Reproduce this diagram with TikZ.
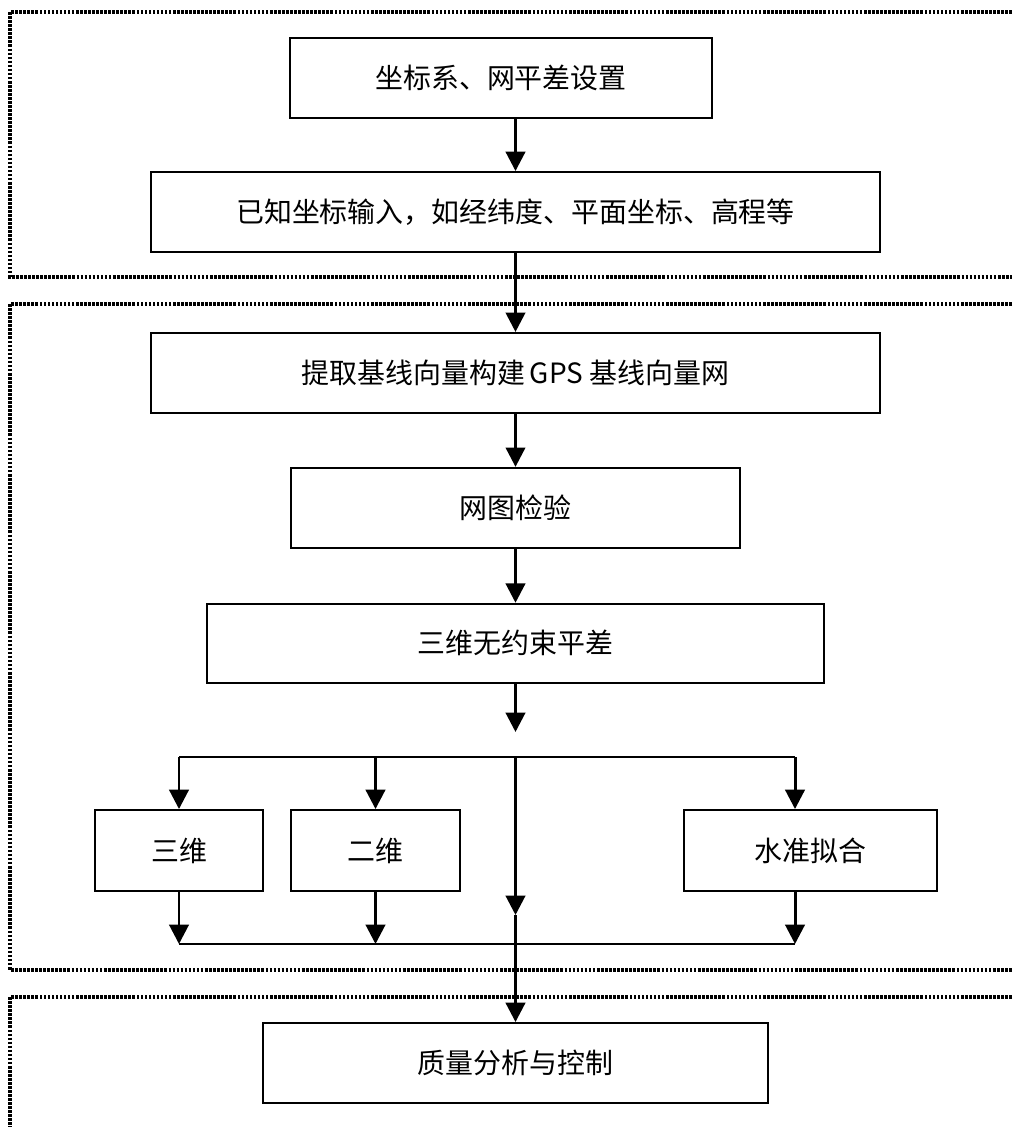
\documentclass[tikz,border=0pt]{standalone}
\usepackage{fontspec}
\newfontfamily\cjk{Noto Sans CJK SC}
\usetikzlibrary{arrows.meta,positioning,calc}

\begin{document}
\begin{tikzpicture}[
x=0.02cm, y=-0.02cm,
node distance=1.08cm,
box/.style={draw, line width=1.1pt, minimum height=1.6cm, inner sep=0pt, align=center, font=\cjk\fontsize{15.9}{19}\selectfont},
arr/.style={-{Triangle[length=11pt, width=11pt]}, line width=1.7pt},
bar/.style={line width=1.2pt},
grp/.style={line width=1.9pt, dash pattern=on 1.5pt off 0.8pt}
]
\useasboundingbox (0,0) rectangle (1012,1127);

% dotted frames, open on the right
\draw[grp] (1012,12) -- (10,12) -- (10,277) -- (1012,277);
\draw[grp] (1012,304) -- (10,304) -- (10,970) -- (1012,970);
\draw[grp] (1012,997) -- (10,997) -- (10,1127);

\node[box, minimum width=8.44cm] (setup) at (501,78) {坐标系、网平差设置};
\node[box, minimum width=14.58cm] (known) at (515.5,212) {已知坐标输入，如经纬度、平面坐标、高程等};
\node[box, minimum width=14.58cm, below=1.58cm of known] (extract) {提取基线向量构建\,GPS\ 基线向量网};
\node[box, minimum width=8.98cm, below=1.06cm of extract] (check) {网图检验};
\node[box, minimum width=12.34cm, minimum height=1.58cm, below=of check] (free) {三维无约束平差};

\node[box, minimum width=3.36cm, minimum height=1.62cm] (three) at (179,850.5) {三维};
\node[box, minimum width=3.38cm, minimum height=1.62cm] (two) at (375.5,850.5) {二维};
\node[box, minimum width=5.06cm, minimum height=1.62cm] (level) at (810.5,850.5) {水准拟合};
\node[box, minimum width=10.1cm] (quality) at (515.5,1063) {质量分析与控制};

\coordinate (fork) at (515.5,732);
\coordinate (split) at (515.5,757);
\coordinate (mid) at (515.5,915);
\coordinate (join) at (515.5,944);
\coordinate (lvltop) at ([xshift=-0.31cm]level.north);
\coordinate (lvlbot) at ([xshift=-0.31cm]level.south);

\draw[arr] (known.north |- setup.south) -- (known);
\draw[arr] (known) -- (extract);
\draw[arr] (extract) -- (check);
\draw[arr] (check) -- (free);
\draw[arr] (free) -- (fork);

% branches
\draw[bar] (three.north |- split) -- (lvltop |- split);
\draw[arr] (three.north |- split) -- (three);
\draw[arr] (two.north |- split) -- (two);
\draw[arr] (lvltop |- split) -- (lvltop);
\draw[arr] (split) -- (mid);
\draw[arr] (mid) -- (quality);

\draw[arr] (three) -- (three.south |- join);
\draw[arr] (two) -- (two.south |- join);
\draw[arr] (lvlbot) -- (lvlbot |- join);
\draw[bar] (three.south |- join) -- (lvlbot |- join);
\end{tikzpicture}
\end{document}
